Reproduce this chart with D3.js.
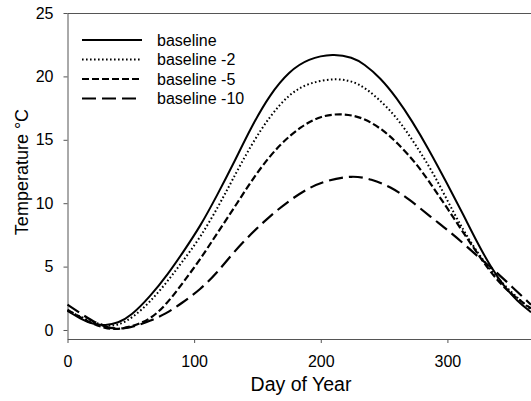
<!DOCTYPE html>
<html>
<head>
<meta charset="utf-8">
<script src="https://cdn.jsdelivr.net/npm/d3@7"></script>
<style>
  body { margin:0; background:#fff; }
  svg text { font-family: "Liberation Sans", Arial, sans-serif; fill:#000; }
</style>
</head>
<body>
<svg id="chart" width="531" height="401"></svg>
<script>
// values (day of year, temperature °C)
const baselineDays = [0,10,20,30,40,50,65,80,91,105,118,131,145,160,175,190,210,225,234,247,260,272,285,300,313,323,334,345,355,366];
const baselineTemp = [1.5,0.9,0.45,0.35,0.55,1.1,2.6,4.5,6.1,8.2,10.6,13.1,16.0,18.6,20.4,21.4,21.8,21.5,21.0,19.9,18.3,16.5,14.3,11.5,9.0,7.0,5.0,3.4,2.3,1.4];

const minus2Days = [0,15,30,40,52,65,78,90,105,120,130,145,160,175,190,213,230,245,260,275,290,305,320,335,350,366];
const minus2Temp = [1.55,0.8,0.3,0.35,1.0,2.2,3.7,5.3,7.3,9.9,11.8,14.6,16.9,18.6,19.5,19.9,19.5,18.3,16.8,14.6,12.2,9.2,6.6,4.6,3.0,1.6];

const minus5Days = [0,15,30,40,50,65,78,91,105,118,134,150,168,185,200,218,235,250,260,275,287,300,313,326,339,352,366];
const minus5Temp = [1.6,0.7,0.1,0.05,0.25,0.8,2.0,3.7,5.6,7.6,10.0,12.5,14.7,16.1,16.9,17.1,16.7,15.7,14.8,13.2,11.5,9.6,7.6,5.7,3.9,2.7,1.7];

const minus10Days = [0,12,23,34,45,55,65,78,90,105,118,130,145,160,175,190,205,225,240,255,270,287,300,313,325,335,350,366];
const minus10Temp = [2.0,1.2,0.5,0.1,0.1,0.35,0.7,1.3,2.1,3.2,4.5,6.0,7.6,9.0,10.2,11.2,11.8,12.2,11.9,11.3,10.3,8.9,7.9,6.8,5.7,4.9,3.5,2.0];

const seriesNames = ["baseline", "baseline -2", "baseline -5", "baseline -10"];
const xTicks = [0, 100, 200, 300];
const yTicks = [0, 5, 10, 15, 20, 25];

const series = [
  { name: seriesNames[0], days: baselineDays, temp: baselineTemp, dash: null, width: 2 },
  { name: seriesNames[1], days: minus2Days, temp: minus2Temp, dash: "1.6,2.4", width: 2 },
  { name: seriesNames[2], days: minus5Days, temp: minus5Temp, dash: "7,3", width: 2.2 },
  { name: seriesNames[3], days: minus10Days, temp: minus10Temp, dash: "14,6", width: 2.2 }
];

const svg = d3.select('#chart');
const mLeft = 67.5, mRight = 531, mTop = 13, mBottom = 339;

const x = d3.scaleLinear().domain([0, 366]).range([mLeft, mRight]);
const y = d3.scaleLinear().domain([-0.71, 25]).range([mBottom, mTop]);

// frame top line
svg.append('line')
  .attr('x1', mLeft).attr('x2', mRight)
  .attr('y1', mTop + 0.5).attr('y2', mTop + 0.5)
  .attr('stroke', '#555').attr('stroke-width', 1);

const xAxis = svg.append('g')
  .attr('transform', `translate(0,${mBottom})`)
  .call(d3.axisBottom(x).tickValues(xTicks).tickSize(4).tickPadding(13).tickSizeOuter(0));
const yAxis = svg.append('g')
  .attr('transform', `translate(${mLeft},0)`)
  .call(d3.axisLeft(y).tickValues(yTicks).tickSize(4).tickPadding(10).tickSizeOuter(0));

[xAxis, yAxis].forEach(g => {
  g.select('.domain').attr('stroke', '#555');
  g.selectAll('.tick line').attr('stroke', '#555');
  g.selectAll('.tick text').attr('font-size', 16).attr('fill', '#000')
    .style('font-family', '"Liberation Sans", Arial, sans-serif');
});

const line = d3.line()
  .x(d => x(d[0]))
  .y(d => y(d[1]))
  .curve(d3.curveBasis);

const plot = svg.append('g');
series.forEach(s => {
  plot.append('path')
    .datum(s.days.map((d, i) => [d, s.temp[i]]))
    .attr('d', line)
    .attr('fill', 'none')
    .attr('stroke', '#000')
    .attr('stroke-width', s.width)
    .attr('stroke-dasharray', s.dash);
});

// legend
const legend = svg.append('g');
series.forEach((s, i) => {
  const ly = 40 + i * 19.5;
  legend.append('line')
    .attr('x1', 82).attr('x2', 142)
    .attr('y1', ly).attr('y2', ly)
    .attr('stroke', '#000')
    .attr('stroke-width', s.width)
    .attr('stroke-dasharray', s.dash);
  legend.append('text')
    .attr('x', 157).attr('y', ly + 5.5)
    .attr('font-size', 16)
    .text(s.name);
});

// axis titles
svg.append('text')
  .attr('x', 301).attr('y', 391)
  .attr('text-anchor', 'middle')
  .attr('font-size', 19.5)
  .text('Day of Year');

svg.append('text')
  .attr('transform', 'translate(28,172) rotate(-90)')
  .attr('text-anchor', 'middle')
  .attr('font-size', 18)
  .text('Temperature °C');
</script>
</body>
</html>
